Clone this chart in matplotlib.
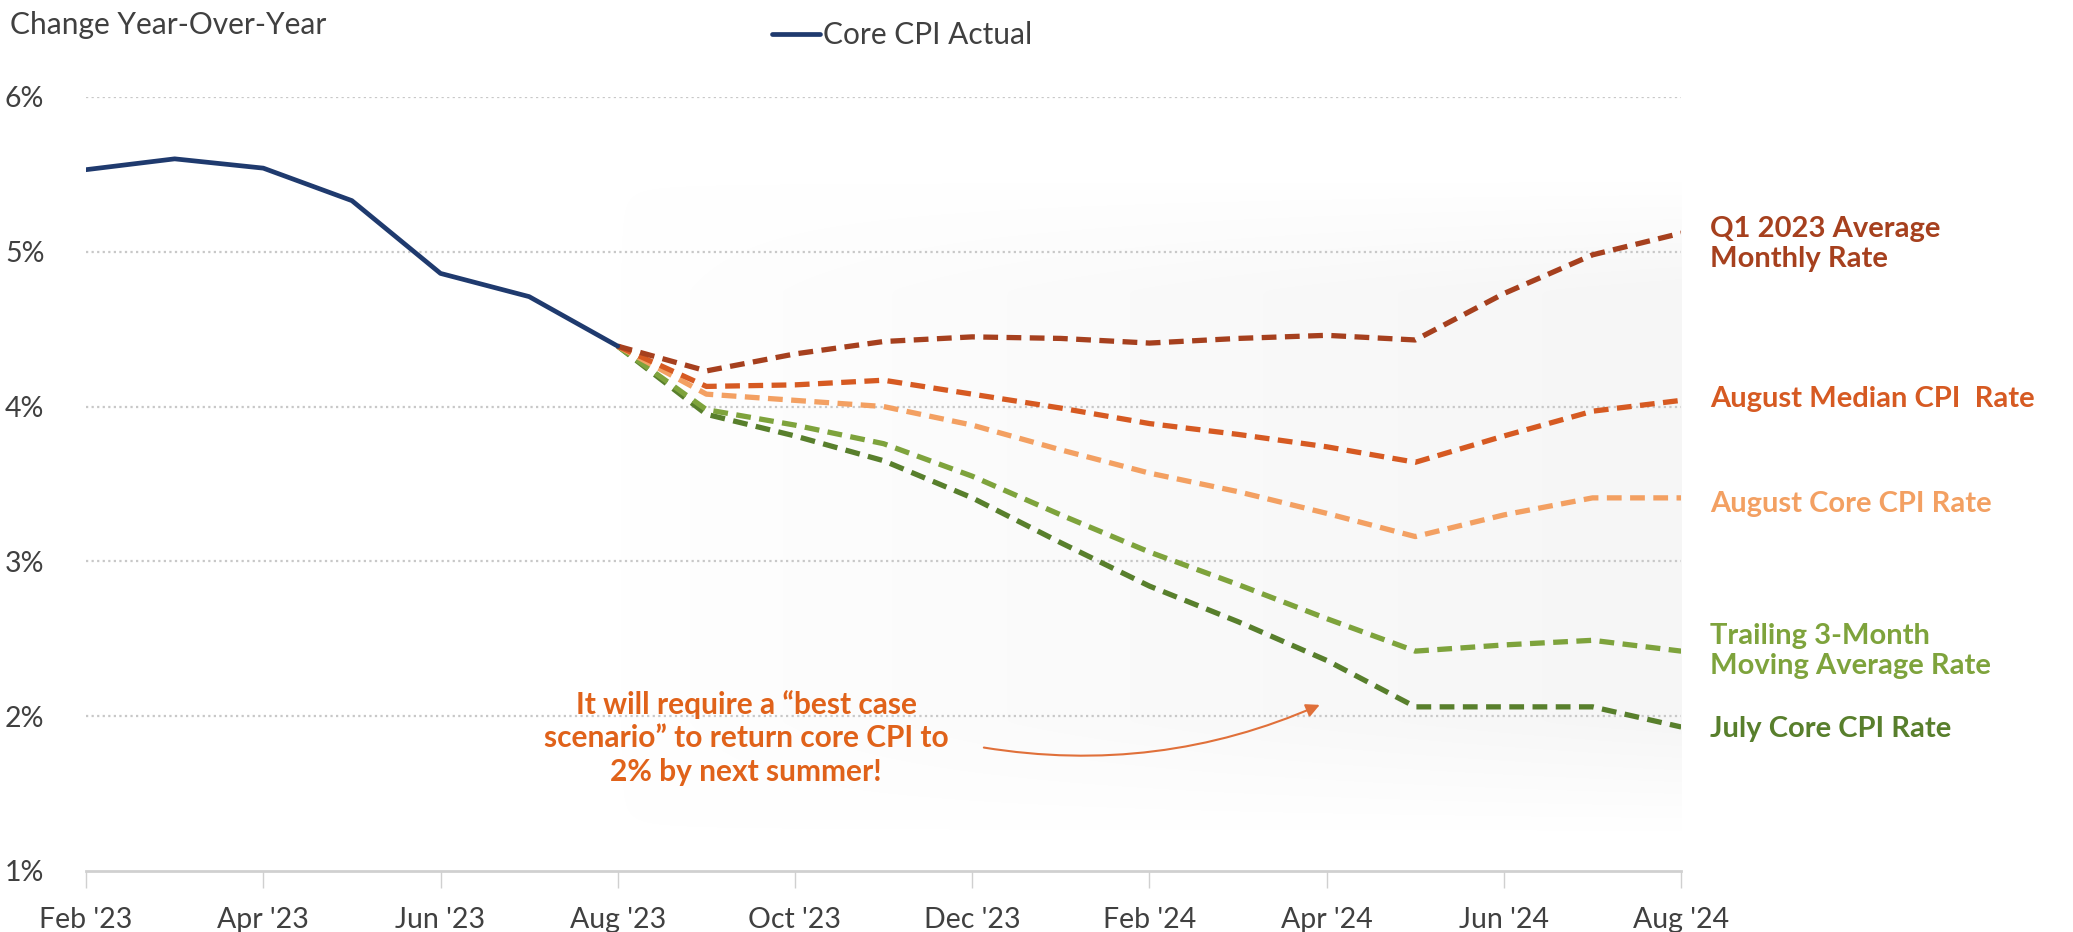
import numpy as np
import matplotlib.pyplot as plt

plt.rcParams['font.family'] = ['Lato', 'DejaVu Sans']

# months, Feb '23 .. Aug '24
months = ["Feb '23", "Mar '23", "Apr '23", "May '23", "Jun '23", "Jul '23", "Aug '23",
          "Sep '23", "Oct '23", "Nov '23", "Dec '23", "Jan '24", "Feb '24", "Mar '24",
          "Apr '24", "May '24", "Jun '24", "Jul '24", "Aug '24"]

# actual core CPI, Feb '23 .. Aug '23
actual = [5.53, 5.60, 5.54, 5.33, 4.86, 4.71, 4.39]

# projections, Aug '23 .. Aug '24
q1_avg = [4.39, 4.23, 4.34, 4.42, 4.45, 4.44, 4.41, 4.44, 4.46, 4.43, 4.73, 4.98, 5.12]
aug_median = [4.39, 4.13, 4.14, 4.17, 4.08, 3.99, 3.89, 3.82, 3.74, 3.64, 3.81, 3.97, 4.04]
aug_core = [4.39, 4.08, 4.04, 4.00, 3.88, 3.72, 3.57, 3.45, 3.31, 3.16, 3.30, 3.41, 3.41]
trailing_3m = [4.39, 3.98, 3.88, 3.76, 3.55, 3.30, 3.06, 2.85, 2.63, 2.42, 2.46, 2.49, 2.42]
july_core = [4.39, 3.95, 3.81, 3.65, 3.41, 3.12, 2.84, 2.61, 2.36, 2.06, 2.06, 2.06, 1.93]

proj_names = ['Q1 2023 Average\nMonthly Rate', 'August Median CPI  Rate', 'August Core CPI Rate',
              'Trailing 3-Month\nMoving Average Rate', 'July Core CPI Rate']
proj_colors = ['#a6401e', '#d65a22', '#f3a062', '#7ea33c', '#587f2c']
label_y = [5.05, 4.05, 3.37, 2.42, 1.92]

x_act = np.arange(len(actual))
x_proj = np.arange(len(actual) - 1, len(months))

fig = plt.figure(figsize=(20.73, 9.32), dpi=100)
ax = fig.add_axes([0.0415, 0.0655, 0.7695, 0.8305])

# faint shaded band behind the projections, fading in from the left
gx = np.linspace(0, 1, 300) ** 0.8
gy = np.minimum(1, np.minimum(np.linspace(0, 1, 200), np.linspace(1, 0, 200)) * 6)
grad = np.zeros((200, 300, 4))
grad[..., :3] = 0.965
grad[..., 3] = gy[:, None] * gx[None, :]
ax.imshow(grad, extent=[6, 18, 1.25, 5.45], aspect='auto', zorder=0, interpolation='bicubic')

for vals, c in zip([q1_avg, aug_median, aug_core, trailing_3m, july_core][::-1], proj_colors[::-1]):
    ax.plot(x_proj, vals, color=c, lw=3.8, dashes=(2.8, 1.6), zorder=3)

ax.plot(x_act, actual, color='#1f3a6e', lw=3.4, zorder=4, solid_capstyle='round', label='Core CPI Actual')

for name, c, y in zip(proj_names, proj_colors, label_y):
    ax.text(18.33, y, name, color=c, fontsize=21, fontweight='bold', ha='left', va='center',
            linespacing=1.2, clip_on=False)

ax.text(7.45, 1.86, 'It will require a \u201cbest case\nscenario\u201d to return core CPI to\n2% by next summer!',
        color='#e0621a', fontsize=21.5, fontweight='bold', ha='center', va='center', linespacing=1.25)
ax.annotate('', xy=(13.95, 2.08), xytext=(10.1, 1.8),
            arrowprops=dict(arrowstyle='-|>', color='#e0703a', lw=1.5, mutation_scale=20,
                            connectionstyle='arc3,rad=0.15'))

ax.set_xlim(0, 18)
ax.set_ylim(1, 6)
ax.set_yticks([1, 2, 3, 4, 5, 6])
ax.set_yticklabels(['1%', '2%', '3%', '4%', '5%', '6%'])
ax.set_xticks(np.arange(0, 19, 2))
ax.set_xticklabels(months[::2])
ax.tick_params(axis='y', length=0, pad=30, labelsize=20.5, labelcolor='#404040')
ax.tick_params(axis='x', length=12, width=1, color='#d0d0d0', pad=14, labelsize=20.5, labelcolor='#404040')

for y in [2, 3, 4, 5, 6]:
    ax.axhline(y, color='#c8c8c8', lw=1.6, ls=(0, (1, 1.5)), zorder=1)

for s in ['top', 'right', 'left']:
    ax.spines[s].set_visible(False)
ax.spines['bottom'].set_color('#d0d0d0')
ax.spines['bottom'].set_linewidth(2)

fig.text(0.005, 0.973, 'Change Year-Over-Year', fontsize=21.5, color='#404040', ha='left', va='center')
fig.legend(loc='center', bbox_to_anchor=(0.435, 0.962), frameon=False, fontsize=21.5,
           handlelength=1.6, handletextpad=0.1, labelcolor='#404040')

fig.savefig('out.png', dpi=100)
